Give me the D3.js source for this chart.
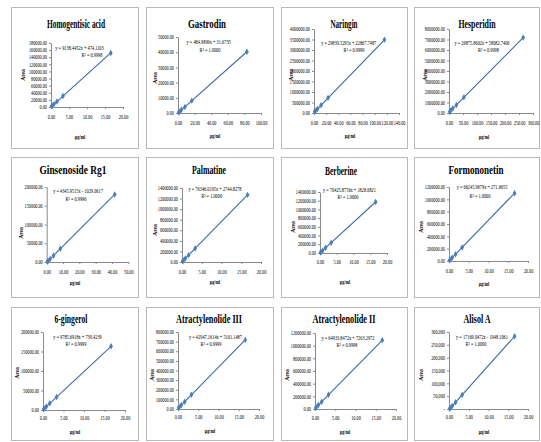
<!DOCTYPE html>
<html>
<head>
<meta charset="utf-8">
<script src="https://cdn.jsdelivr.net/npm/d3@7"></script>
<style>
  html, body { margin: 0; padding: 0; background: #fff; }
  svg { display: block; }
  text { font-family: "Liberation Serif", "Times New Roman", serif; fill: #000; }
</style>
</head>
<body>
<svg id="chart" width="541" height="442"></svg>
<script>
// ---- calibration data ----
const compounds = ["Homogentisic acid", "Gastrodin", "Naringin", "Hesperidin",
  "Ginsenoside Rg1", "Palmatine", "Berberine", "Formononetin",
  "6-gingerol", "Atractylenolide III", "Atractylenolide II", "Alisol A"];

const slopes = [9138.4452, 484.9899, 29839.5295, 26875.8602,
  4345.9515, 76346.0195, 70425.8756, 66245.9679,
  9785.6918, 42947.1614, 64933.8472, 17169.0472];
const intercepts = [474.1103, 31.6735, 22867.7487, 58082.7406,
  -1029.0617, 2744.8278, 1828.6821, 271.6655,
  739.4239, 5101.1487, 7263.2972, -1948.1061];
const rSquared = [0.9998, 1.0000, 0.9999, 0.9998,
  0.9996, 1.0000, 1.0000, 1.0000,
  0.9999, 0.9999, 0.9998, 1.0000];

// concentrations (μg/ml)
const concStandard = [0.166, 0.332, 0.83, 1.66, 3.32, 16.6];
const concGastrodin = [0.83, 1.66, 4.15, 8.3, 16.6, 83];
const concNaringin = [1.16, 2.32, 5.8, 11.6, 23.2, 116];
const concHesperidin = [2.65, 5.3, 13.25, 26.5, 53, 265];
const concRg1 = [0.417, 0.834, 2.085, 4.17, 8.34, 41.7];

// peak areas
const areaHomogentisic = [1950, 3560, 8120, 15480, 31050, 152100];
const areaGastrodin = [410, 850, 2090, 4010, 8130, 40270];
const areaNaringin = [58200, 90800, 198500, 365900, 721300, 3483700];
const areaHesperidin = [121500, 205300, 420800, 762400, 1489700, 7179800];
const areaRg1 = [820, 2510, 8190, 16870, 35480, 180150];
const areaPalmatine = [15120, 28450, 65730, 129960, 255840, 1270200];
const areaBerberine = [13390, 25430, 60110, 118920, 235410, 1170950];
const areaFormononetin = [11190, 22380, 55120, 110410, 220050, 1099990];
const areaGingerol = [2290, 4070, 8790, 17120, 33090, 163220];
const areaAtrIII = [11820, 19740, 41030, 76050, 148120, 717980];
const areaAtrII = [17450, 29360, 61840, 114560, 223600, 1085020];
const areaAlisolA = [850, 3810, 12240, 26610, 54990, 283070];

const concSets = [concStandard, concGastrodin, concNaringin, concHesperidin,
  concRg1, concStandard, concStandard, concStandard,
  concStandard, concStandard, concStandard, concStandard];
const areaSets = [areaHomogentisic, areaGastrodin, areaNaringin, areaHesperidin,
  areaRg1, areaPalmatine, areaBerberine, areaFormononetin,
  areaGingerol, areaAtrIII, areaAtrII, areaAlisolA];

// axis ticks
const xTickMax = [20, 100, 140, 300, 50, 20, 20, 20, 20, 20, 20, 20];
const xTickStep = [5, 20, 20, 50, 10, 5, 5, 5, 5, 5, 5, 5];
const yTickMax = [180000, 50000, 4000000, 8000000, 200000, 1400000, 1400000, 1200000,
  200000, 800000, 1200000, 300000];
const yTickStep = [20000, 10000, 500000, 1000000, 50000, 200000, 200000, 200000,
  50000, 100000, 200000, 50000];
const yTickFormat = ["fixed", "fixed", "fixed", "fixed", "fixed", "fixed", "fixed", "fixed",
  "fixed", "fixed", "fixed", "accounting"];
const xAxisTitle = "μg/ml";
const yAxisTitle = "Area";

// ---- panel layout (pixels) ----
const layout = [
  {frame: [11, 7, 138, 148], px: [51, 123], py: [107, 43], title: [76, 24, 58], xlab: 117, xt: [80, 137], yt: [23, 75], eq: [79.5, 48.3], r2: [92, 55]},
  {frame: [146, 7, 273, 148], px: [178, 261], py: [113, 37], title: [207, 24, 38], xlab: 123, xt: [215, 136], yt: [155, 78], eq: [208.7, 42.7], r2: [210, 50]},
  {frame: [281, 7, 407, 148], px: [314, 399], py: [113, 29], title: [344, 24, 27], xlab: 123, xt: [350, 136], yt: [291, 75], eq: [348.7, 43.3], r2: [354, 50.7]},
  {frame: [414, 7, 539, 148], px: [449, 533], py: [113, 29], title: [477, 24, 37], xlab: 123, xt: [484, 137], yt: [425, 75], eq: [482, 43.3], r2: [488.5, 50.7]},
  {frame: [11, 157, 138, 297], px: [46.7, 128.3], py: [262, 187], title: [73, 170, 67], xlab: 272, xt: [75, 283], yt: [21, 233], eq: [78, 191.7], r2: [76, 199]},
  {frame: [146, 157, 273, 297], px: [182, 261], py: [262, 188], title: [209, 170, 34], xlab: 272, xt: [215, 282], yt: [155, 230], eq: [215, 189], r2: [211.7, 196.7]},
  {frame: [281, 157, 407, 297], px: [320, 387], py: [253, 192], title: [341, 171, 32], xlab: 262, xt: [345, 282], yt: [293, 227], eq: [349.5, 190], r2: [348, 197.7]},
  {frame: [414, 157, 539, 297], px: [449, 528], py: [261, 187], title: [476, 170, 55], xlab: 271, xt: [484, 284], yt: [421, 227], eq: [482, 187.7], r2: [480, 196.7]},
  {frame: [11, 307, 138, 440], px: [43, 125], py: [410, 332], title: [71, 319, 33], xlab: 418, xt: [75, 432], yt: [17, 373], eq: [77.5, 337.7], r2: [76, 344.3]},
  {frame: [146, 307, 273, 440], px: [178, 259], py: [409, 332], title: [209, 319, 66], xlab: 417, xt: [210, 431], yt: [152, 375], eq: [215.5, 337.7], r2: [211, 344.3]},
  {frame: [281, 307, 407, 440], px: [315, 396], py: [409, 333], title: [344, 319, 63], xlab: 418, xt: [345, 432], yt: [287, 375], eq: [348, 338.3], r2: [347, 345]},
  {frame: [414, 307, 539, 440], px: [449, 528], py: [409, 332], title: [477, 319, 27], xlab: 417, xt: [484, 432], yt: [421, 375], eq: [482, 337.7], r2: [476, 344.3]}
];

const SMALL = 5.6;        // tick / equation font size
const SQUEEZE = 0.76;     // horizontal condensing of small text
const markerColor = "#4a7ebb";
const lineColor = "#3a6cab";
const axisColor = "#8a8a8a";
const frameColor = "#b9b9b9";

const svg = d3.select("#chart");
svg.append("rect").attr("width", 541).attr("height", 442).attr("fill", "#fff");

function squeezedText(g, x, y, str, opts = {}) {
  const sx = opts.sx ?? SQUEEZE;
  const rot = opts.rotate ? " rotate(-90)" : "";
  return g.append("text")
    .attr("transform", `translate(${x},${y}) scale(${sx},1)${rot}`)
    .attr("text-anchor", opts.anchor || "middle")
    .attr("dominant-baseline", "central")
    .attr("font-size", opts.size || SMALL)
    .attr("font-weight", opts.bold ? "bold" : "normal")
    .text(str);
}

const fmtFixed = d3.format(".2f");
const fmtAccounting = v => v === 0 ? "-" : d3.format(",.0f")(v);

compounds.forEach((name, i) => {
  const L = layout[i];
  const g = svg.append("g");

  // panel frame
  g.append("rect")
    .attr("x", L.frame[0] + 0.5).attr("y", L.frame[1] + 0.5)
    .attr("width", L.frame[2] - L.frame[0]).attr("height", L.frame[3] - L.frame[1])
    .attr("fill", "#fff").attr("stroke", frameColor).attr("stroke-width", 1);

  const x = d3.scaleLinear().domain([0, xTickMax[i]]).range(L.px);
  const y = d3.scaleLinear().domain([0, yTickMax[i]]).range(L.py);

  const xTicks = d3.range(0, xTickMax[i] + xTickStep[i] / 2, xTickStep[i]);
  const yTicks = d3.range(0, yTickMax[i] + yTickStep[i] / 2, yTickStep[i]);

  // y axis
  const yFmt = yTickFormat[i] === "accounting" ? fmtAccounting : fmtFixed;
  const yAxis = g.append("g")
    .attr("transform", `translate(${L.px[0]},0)`)
    .call(d3.axisLeft(y).tickValues(yTicks).tickFormat(yFmt).tickSize(2).tickSizeOuter(0).tickPadding(2));
  yAxis.select(".domain").attr("stroke", axisColor);
  yAxis.selectAll(".tick line").attr("stroke", axisColor);
  yAxis.selectAll(".tick text").each(function () {
    const t = d3.select(this);
    const tx = +t.attr("x");
    t.attr("x", null).attr("dy", null)
      .attr("dominant-baseline", "central")
      .attr("transform", `translate(${tx},0) scale(${SQUEEZE},1)`);
  });
  yAxis.attr("font-size", SMALL).attr("font-family", null);

  // x axis
  const xAxis = g.append("g")
    .attr("transform", `translate(0,${L.py[0]})`)
    .call(d3.axisBottom(x).tickValues(xTicks).tickFormat(fmtFixed).tickSize(2).tickSizeOuter(0));
  xAxis.select(".domain").attr("stroke", axisColor);
  xAxis.selectAll(".tick line").attr("stroke", axisColor);
  xAxis.selectAll(".tick text").each(function () {
    d3.select(this).attr("y", null).attr("dy", null)
      .attr("dominant-baseline", "central")
      .attr("transform", `translate(0,${L.xlab - L.py[0]}) scale(${SQUEEZE},1)`);
  });
  xAxis.attr("font-size", SMALL).attr("font-family", null);

  // fitted calibration line over the measured range
  const xs = concSets[i];
  const x0 = d3.min(xs), x1 = d3.max(xs);
  g.append("line")
    .attr("x1", x(x0)).attr("y1", y(slopes[i] * x0 + intercepts[i]))
    .attr("x2", x(x1)).attr("y2", y(slopes[i] * x1 + intercepts[i]))
    .attr("stroke", lineColor).attr("stroke-width", 1.1);

  // measured points
  const pts = xs.map((c, k) => [c, areaSets[i][k]]);
  g.selectAll("path.pt").data(pts).enter().append("path")
    .attr("class", "pt")
    .attr("d", d3.symbol().type(d3.symbolDiamond).size(12))
    .attr("transform", d => `translate(${x(d[0])},${y(d[1])})`)
    .attr("fill", markerColor);

  // title
  g.append("text")
    .attr("x", L.title[0] - L.title[2] / 2).attr("y", L.title[1])
    .attr("dominant-baseline", "central")
    .attr("font-size", 11.5).attr("font-weight", "bold")
    .attr("textLength", L.title[2]).attr("lengthAdjust", "spacingAndGlyphs")
    .text(name);

  // regression equation and R²
  const b = intercepts[i];
  const eq = `y = ${slopes[i].toFixed(4)}x ${b < 0 ? "-" : "+"} ${Math.abs(b).toFixed(4)}`;
  squeezedText(g, L.eq[0], L.eq[1], eq, {sx: 0.78});
  squeezedText(g, L.r2[0], L.r2[1], `R² = ${rSquared[i].toFixed(4)}`, {sx: 0.78});

  // axis titles
  squeezedText(g, L.xt[0], L.xt[1], xAxisTitle, {bold: true, size: 5.6});
  squeezedText(g, L.yt[0], L.yt[1], yAxisTitle, {bold: true, size: 5.6, rotate: true, sx: 0.9});
});
</script>
</body>
</html>
